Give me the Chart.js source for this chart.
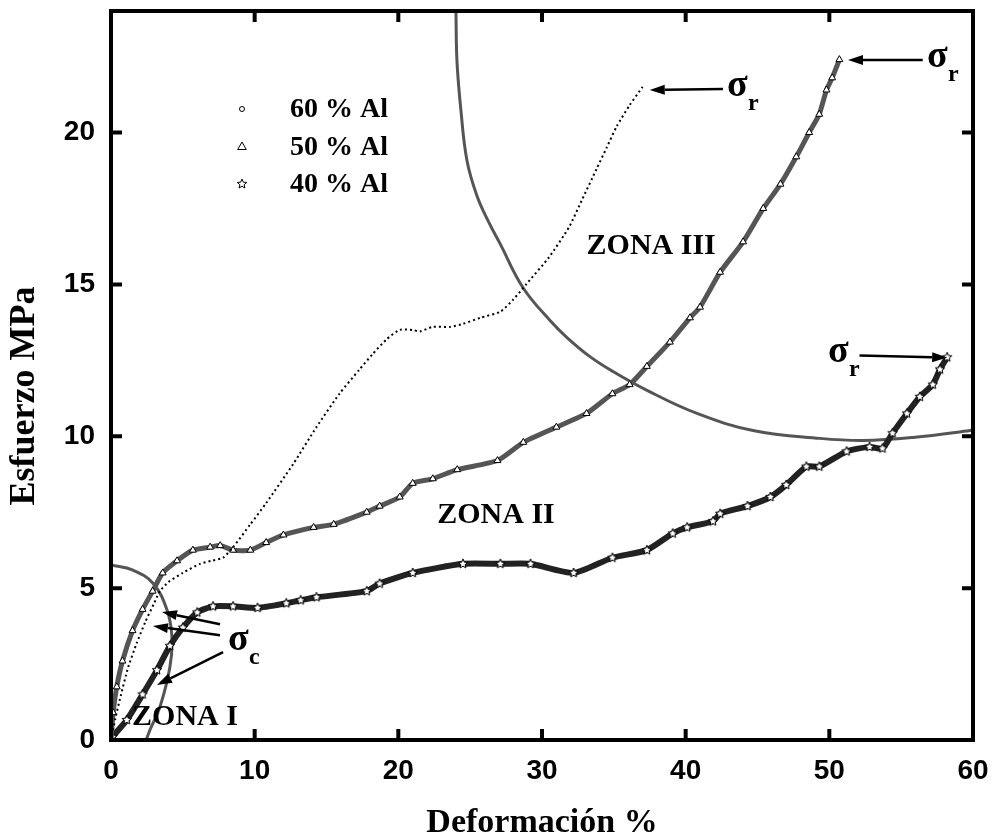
<!DOCTYPE html>
<html lang="es">
<head>
<meta charset="utf-8">
<title>Esfuerzo vs Deformación</title>
<script src="https://cdn.jsdelivr.net/npm/chart.js@4.4.1/dist/chart.umd.min.js"></script>
<style>
  html, body { margin: 0; padding: 0; background: #fff; }
  #chart { display: block; }
</style>
</head>
<body>
<canvas id="chart" width="992" height="837"></canvas>
<script>
// curvas esfuerzo-deformación: [deformación %, esfuerzo MPa]
const al60 = [[0,0],[0.3,0.7],[0.7,1.5],[1.2,2.4],[1.8,3.2],[2.4,3.9],[3.0,4.5],[3.4,4.9],[4.0,5.2],
  [5.0,5.5],[6.2,5.8],[7.0,5.9],[7.8,6.0],[8.5,6.35],[9.7,7.1],[10.8,7.8],[12.7,9.1],[14.3,10.3],
  [15.9,11.4],[17.3,12.2],[18.2,12.7],[19.2,13.2],[20.1,13.5],[21.0,13.5],[21.5,13.45],[22.4,13.6],
  [23.6,13.6],[24.5,13.7],[25.7,13.9],[27.1,14.1],[28.0,14.5],[28.9,15.0],[30.5,15.9],[31.9,16.9],
  [32.8,17.8],[33.8,18.8],[34.5,19.5],[35.2,20.2],[36.1,20.9],[37.0,21.5]];

const al50 = [[0,0],[0.15,0.9],[0.4,1.75],[0.8,2.6],[1.5,3.6],[2.2,4.3],[2.9,4.9],[3.6,5.5],[4.6,5.9],
  [5.7,6.25],[6.9,6.35],[7.6,6.4],[8.5,6.25],[9.7,6.25],[10.8,6.5],[12.0,6.75],[14.1,7.0],[15.5,7.1],
  [17.8,7.5],[18.7,7.7],[20.1,8.0],[21.0,8.45],[22.4,8.6],[24.1,8.9],[26.9,9.2],[28.7,9.8],[31.0,10.3],
  [33.1,10.75],[34.9,11.4],[36.1,11.7],[37.3,12.3],[38.9,13.1],[40.3,13.9],[41.0,14.25],[42.4,15.4],
  [44.0,16.4],[45.4,17.5],[46.6,18.3],[47.7,19.2],[48.6,20.0],[49.3,20.6],[49.8,21.4],[50.2,21.8],[50.7,22.4]];

const al40 = [[0,0],[0.1,0.1],[1.1,0.66],[2.2,1.5],[3.2,2.3],[4.1,3.1],[5.0,3.7],[6.0,4.2],[7.1,4.4],
  [8.5,4.4],[10.2,4.35],[12.2,4.5],[13.2,4.6],[14.3,4.7],[17.8,4.9],[18.7,5.15],[21.0,5.5],[24.5,5.8],
  [27.1,5.8],[29.2,5.8],[32.2,5.5],[34.9,6.0],[37.3,6.25],[39.1,6.8],[40.1,7.0],[41.9,7.2],[42.4,7.45],
  [44.3,7.7],[45.9,8.0],[47.0,8.4],[48.4,9.0],[49.3,9.0],[51.2,9.5],[52.8,9.65],[53.7,9.6],[54.4,10.1],
  [55.4,10.75],[56.3,11.3],[57.2,11.7],[57.7,12.2],[58.2,12.6]];

// límites de zona
const limiteZonaI = [[0,5.76],[1.53,5.59],[2.92,5.16],[3.9,4.28],[4.24,3.39],[4.1,2.4],[3.41,1.09],[2.71,0.33],[2.45,0]];
const limiteZonaIII = [[24.01,24.0],[24.08,22.36],[24.36,20.71],[24.78,19.07],[25.47,17.92],[26.31,17.03],
  [27.08,16.34],[28.68,14.89],[30.56,13.81],[31.74,13.25],[33.34,12.62],[34.94,12.13],[37.31,11.51],
  [40.79,10.75],[44.69,10.19],[49.35,9.93],[52.34,9.86],[55.82,9.96],[59.79,10.19],[60,10.22]];

const xTicks = [0, 10, 20, 30, 40, 50, 60];
const yTicks = [0, 5, 10, 15, 20];
const seriesLabels = ['60 % Al', '50 % Al', '40 % Al'];
const zoneLabels = ['ZONA I', 'ZONA II', 'ZONA III'];

function toPoints(arr) {
  return arr.map(p => ({ x: p[0], y: p[1] }));
}

// estrella de cinco puntas hueca para la serie de 40 %
function starMarker(r) {
  const c = document.createElement('canvas');
  const s = Math.ceil(2 * r + 4);
  c.width = c.height = s;
  const g = c.getContext('2d');
  g.beginPath();
  for (let i = 0; i < 10; i++) {
    const ang = -Math.PI / 2 + i * Math.PI / 5;
    const rad = i % 2 ? r * 0.45 : r;
    g.lineTo(s / 2 + rad * Math.cos(ang), s / 2 + rad * Math.sin(ang));
  }
  g.closePath();
  g.fillStyle = '#fff';
  g.fill();
  g.strokeStyle = '#000';
  g.lineWidth = 1;
  g.stroke();
  return c;
}
const star = starMarker(5);

// textos y flechas sobre el gráfico (en unidades de datos)
const zonas = [
  { text: zoneLabels[0], at: [5.15, 0.76] },
  { text: zoneLabels[1], at: [26.8, 7.4] },
  { text: zoneLabels[2], at: [37.6, 16.24] }
];
const sigmas = [
  { sub: 'r', at: [42.88, 21.21] },
  { sub: 'r', at: [56.8, 22.16] },
  { sub: 'r', at: [49.9, 12.43] },
  { sub: 'c', at: [8.14, 2.96] }
];
const flechas = [
  { from: [42.6, 21.43], to: [37.5, 21.4] },
  { from: [56.5, 22.39], to: [51.3, 22.39] },
  { from: [52.1, 12.66], to: [58.2, 12.59] },
  { from: [7.59, 3.81], to: [3.55, 4.21] },
  { from: [7.59, 3.45], to: [2.92, 3.75] },
  { from: [7.8, 2.89], to: [3.2, 1.81] }
];

function drawArrow(ctx, x1, y1, x2, y2) {
  const ang = Math.atan2(y2 - y1, x2 - x1);
  const len = 15, half = 5;
  const bx = x2 - len * Math.cos(ang), by = y2 - len * Math.sin(ang);
  ctx.beginPath();
  ctx.moveTo(x1, y1);
  ctx.lineTo(bx, by);
  ctx.stroke();
  ctx.beginPath();
  ctx.moveTo(x2, y2);
  ctx.lineTo(bx + half * Math.sin(ang), by - half * Math.cos(ang));
  ctx.lineTo(bx - half * Math.sin(ang), by + half * Math.cos(ang));
  ctx.closePath();
  ctx.fill();
}

// marco con marcas hacia dentro en los cuatro lados
const marco = {
  id: 'marco',
  afterDatasetsDraw(chart) {
    const { ctx, chartArea: a, scales } = chart;
    ctx.save();
    ctx.strokeStyle = '#000';
    ctx.lineWidth = 4;
    ctx.strokeRect(a.left, a.top, a.right - a.left, a.bottom - a.top);
    const tl = 11;
    ctx.beginPath();
    xTicks.forEach(v => {
      const px = scales.x.getPixelForValue(v);
      ctx.moveTo(px, a.bottom); ctx.lineTo(px, a.bottom - tl);
      ctx.moveTo(px, a.top); ctx.lineTo(px, a.top + tl);
    });
    yTicks.forEach(v => {
      const py = scales.y.getPixelForValue(v);
      ctx.moveTo(a.left, py); ctx.lineTo(a.left + tl, py);
      ctx.moveTo(a.right, py); ctx.lineTo(a.right - tl, py);
    });
    ctx.stroke();
    ctx.restore();
  }
};

const anotaciones = {
  id: 'anotaciones',
  afterDraw(chart) {
    const { ctx, chartArea: a, scales } = chart;
    const X = v => scales.x.getPixelForValue(v);
    const Y = v => scales.y.getPixelForValue(v);
    ctx.save();

    // leyenda
    const styles = ['circle', 'triangle', star];
    const radii = [2.5, 5, 5];
    const rows = [109, 147, 184];
    ctx.font = 'bold 28px "Liberation Serif"';
    ctx.textBaseline = 'middle';
    ctx.textAlign = 'left';
    seriesLabels.forEach((lbl, i) => {
      ctx.lineWidth = 1;
      ctx.strokeStyle = '#000';
      ctx.fillStyle = '#fff';
      Chart.helpers.drawPoint(ctx, { pointStyle: styles[i], radius: radii[i], borderWidth: 1 }, a.left + 131, rows[i]);
      ctx.fillStyle = '#000';
      ctx.fillText(lbl, a.left + 179, rows[i] + 1);
    });

    ctx.fillStyle = '#000';
    ctx.strokeStyle = '#000';

    // zonas
    ctx.font = 'bold 30px "Liberation Serif"';
    ctx.textAlign = 'center';
    zonas.forEach(z => ctx.fillText(z.text, X(z.at[0]), Y(z.at[1])));

    // flechas
    ctx.lineWidth = 2.5;
    flechas.forEach(f => drawArrow(ctx, X(f.from[0]), Y(f.from[1]), X(f.to[0]), Y(f.to[1])));

    // sigma r / sigma c
    ctx.textAlign = 'left';
    ctx.textBaseline = 'alphabetic';
    sigmas.forEach(s => {
      const px = X(s.at[0]), py = Y(s.at[1]);
      ctx.font = 'bold 38px "Liberation Serif"';
      ctx.fillText('σ', px, py);
      ctx.font = 'bold 24px "Liberation Serif"';
      ctx.fillText(s.sub, px + 21, py + 14);
    });

    // títulos de ejes
    ctx.textBaseline = 'middle';
    ctx.textAlign = 'center';
    ctx.font = 'bold 34px "Liberation Serif"';
    ctx.fillText('Deformación %', (a.left + a.right) / 2, 823);
    ctx.translate(25, 396);
    ctx.rotate(-Math.PI / 2);
    ctx.font = 'bold 36px "Liberation Serif"';
    ctx.fillText('Esfuerzo MPa', 0, 0);
    ctx.restore();
  }
};

const tickFont = { family: '"Liberation Sans", Arial, sans-serif', size: 28, weight: 'bold' };

new Chart(document.getElementById('chart'), {
  type: 'scatter',
  data: {
    datasets: [
      {
        label: seriesLabels[0],
        data: toPoints(al60),
        showLine: true,
        borderColor: '#000',
        borderWidth: 2,
        borderDash: [2, 3],
        tension: 0.2,
        pointRadius: 0
      },
      {
        label: seriesLabels[1],
        data: toPoints(al50),
        showLine: true,
        borderColor: '#555',
        borderWidth: 5,
        tension: 0.2,
        pointStyle: 'triangle',
        pointRadius: 4,
        pointBackgroundColor: '#fff',
        pointBorderColor: '#000',
        pointBorderWidth: 1
      },
      {
        label: seriesLabels[2],
        data: toPoints(al40),
        showLine: true,
        borderColor: '#222',
        borderWidth: 6,
        tension: 0.2,
        pointStyle: star,
        pointRadius: 5
      },
      {
        label: 'limite I',
        data: toPoints(limiteZonaI),
        showLine: true,
        borderColor: '#555',
        borderWidth: 3,
        tension: 0.4,
        pointRadius: 0
      },
      {
        label: 'limite III',
        data: toPoints(limiteZonaIII),
        showLine: true,
        borderColor: '#555',
        borderWidth: 3,
        tension: 0.4,
        pointRadius: 0
      }
    ]
  },
  options: {
    responsive: false,
    animation: false,
    events: [],
    layout: { padding: { left: 0, top: 10, right: 19, bottom: 0 } },
    plugins: { legend: { display: false }, tooltip: { enabled: false } },
    scales: {
      x: {
        type: 'linear',
        min: 0,
        max: 60,
        afterBuildTicks: s => { s.ticks = xTicks.map(v => ({ value: v })); },
        afterFit: s => { s.height = 97; s.paddingLeft = 0; s.paddingRight = 0; },
        grid: { display: false, drawTicks: false },
        border: { display: false },
        ticks: { font: tickFont, color: '#000', padding: 14, maxRotation: 0 }
      },
      y: {
        type: 'linear',
        min: 0,
        max: 24,
        afterBuildTicks: s => { s.ticks = yTicks.map(v => ({ value: v })); },
        afterFit: s => { s.width = 111; s.paddingTop = 0; s.paddingBottom = 0; },
        grid: { display: false, drawTicks: false },
        border: { display: false },
        ticks: { font: tickFont, color: '#000', padding: 16 }
      }
    }
  },
  plugins: [marco, anotaciones]
});
</script>
</body>
</html>
